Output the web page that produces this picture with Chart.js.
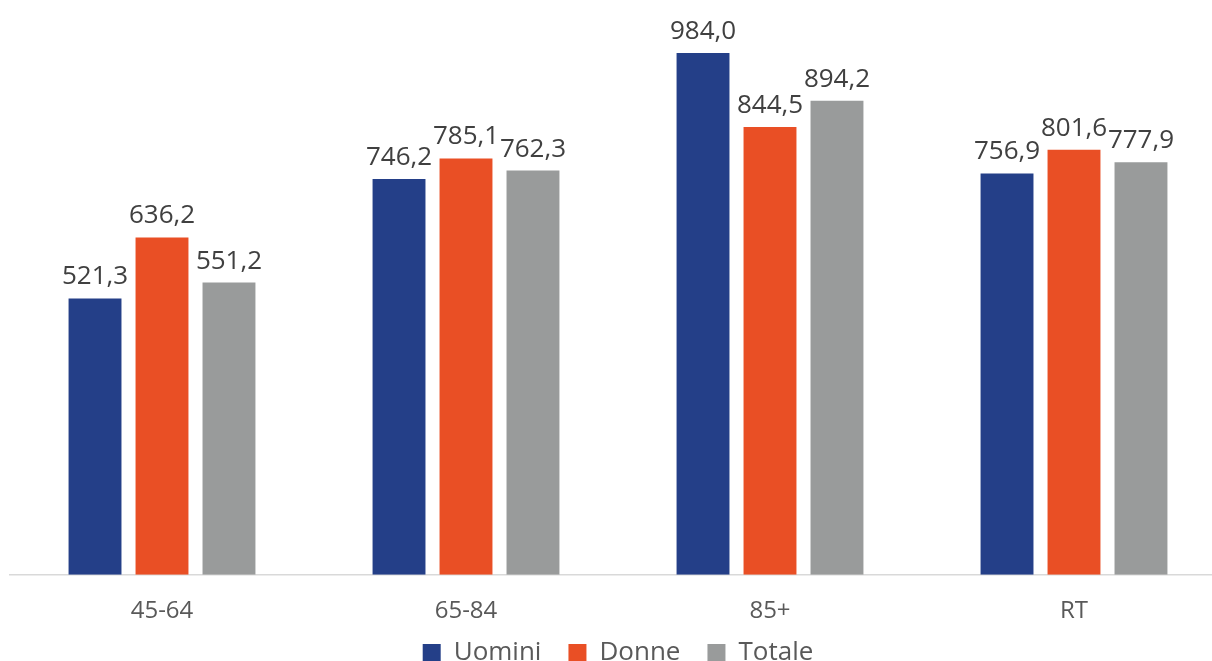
<!DOCTYPE html>
<html>
<head>
<meta charset="utf-8">
<script src="https://cdn.jsdelivr.net/npm/chart.js@4"></script>
<style>
    html, body { margin: 0; padding: 0; background: #fff; overflow: hidden; }
    #wrap { position: relative; width: 1246px; height: 676px; }
</style>
</head>
<body>
<div id="wrap"><canvas id="chart"></canvas></div>
<script>
// Categories and series
const categories = ['45-64', '65-84', '85+', 'RT'];
const seriesNames = ['Uomini', 'Donne', 'Totale'];
const uomini = [521.3, 746.2, 984.0, 756.9];
const donne = [636.2, 785.1, 844.5, 801.6];
const totale = [551.2, 762.3, 894.2, 777.9];

const FONT = '"Open Sans", "Noto Sans", sans-serif';
const fmt = v => v.toFixed(1).replace('.', ',');

// Draws the value above every bar (Excel-style data labels)
const valueLabels = {
    id: 'valueLabels',
    afterDatasetsDraw(chart) {
        const ctx = chart.ctx;
        ctx.save();
        ctx.font = '26px ' + FONT;
        ctx.fillStyle = '#404040';
        ctx.textAlign = 'center';
        ctx.textBaseline = 'alphabetic';
        chart.data.datasets.forEach((ds, i) => {
            chart.getDatasetMeta(i).data.forEach((bar, j) => {
                ctx.fillText(fmt(ds.data[j]), bar.x, bar.y - 14);
            });
        });
        ctx.restore();
    }
};

const legendGaps = ['    ', '    ', ''];

new Chart(document.getElementById('chart'), {
    type: 'bar',
    data: {
        labels: categories,
        datasets: [
            { label: seriesNames[0], data: uomini, backgroundColor: '#243F88' },
            { label: seriesNames[1], data: donne, backgroundColor: '#E94F25' },
            { label: seriesNames[2], data: totale, backgroundColor: '#999B9B' }
        ]
    },
    options: {
        responsive: true,
        maintainAspectRatio: false,
        animation: false,
        layout: { padding: { left: 10, right: 20, top: 0, bottom: 0 } },
        datasets: { bar: { categoryPercentage: 0.661, barPercentage: 0.79 } },
        scales: {
            x: {
                grid: { display: false },
                border: { display: true, color: '#D9D9D9', width: 1.5 },
                ticks: { color: '#595959', font: { family: FONT, size: 24, lineHeight: 0.8 }, padding: 19 }
            },
            y: { display: false, min: 0, max: 1084 }
        },
        plugins: {
            legend: {
                position: 'bottom',
                labels: {
                    color: '#595959',
                    font: { family: FONT, size: 26 },
                    boxWidth: 18,
                    boxHeight: 18,
                    padding: 0,
                    // extra gap between legend items
                    generateLabels(chart) {
                        const items = Chart.defaults.plugins.legend.labels.generateLabels(chart);
                        items.forEach((it, i) => { it.text += legendGaps[i]; });
                        return items;
                    }
                }
            },
            tooltip: { enabled: false }
        }
    },
    plugins: [valueLabels]
});
</script>
</body>
</html>
